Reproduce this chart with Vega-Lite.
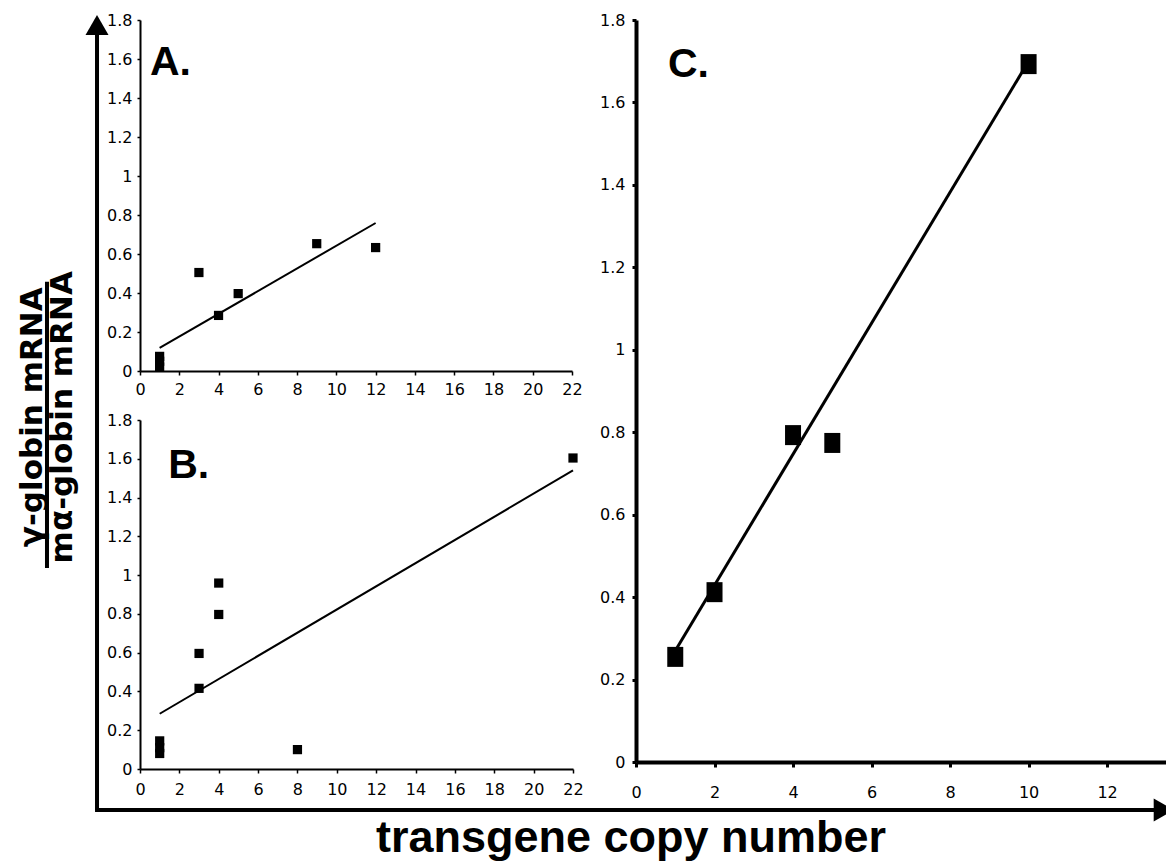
{
  "$schema": "https://vega.github.io/schema/vega-lite/v6.json",
  "background": "white",
  "width": 1166,
  "height": 862,
  "autosize": {"type": "none"},
  "padding": 0,
  "config": {
    "view": {"stroke": null},
    "axis": {"labelFont": "DejaVu Sans", "labelColor": "black", "domainColor": "black", "tickColor": "black", "grid": false, "labelFlush": false, "labelOverlap": false}
  },
  "datasets": {
    "A_pts": [
      {"copies": 1, "ratio": 0.02}, {"copies": 1, "ratio": 0.05}, {"copies": 1, "ratio": 0.075},
      {"copies": 3, "ratio": 0.505}, {"copies": 4, "ratio": 0.285}, {"copies": 5, "ratio": 0.397},
      {"copies": 9, "ratio": 0.653}, {"copies": 12, "ratio": 0.633}
    ],
    "A_fit": [{"copies": 1, "ratio": 0.118}, {"copies": 12, "ratio": 0.759}],
    "B_pts": [
      {"copies": 1, "ratio": 0.08}, {"copies": 1, "ratio": 0.11}, {"copies": 1, "ratio": 0.145},
      {"copies": 3, "ratio": 0.416}, {"copies": 3, "ratio": 0.596}, {"copies": 4, "ratio": 0.797},
      {"copies": 4, "ratio": 0.959}, {"copies": 8, "ratio": 0.1}, {"copies": 22, "ratio": 1.604}
    ],
    "B_fit": [{"copies": 1, "ratio": 0.285}, {"copies": 22, "ratio": 1.54}],
    "C_pts": [
      {"copies": 1, "ratio": 0.255}, {"copies": 2, "ratio": 0.412}, {"copies": 4, "ratio": 0.793},
      {"copies": 5, "ratio": 0.774}, {"copies": 10, "ratio": 1.693}
    ],
    "C_fit": [{"copies": 1, "ratio": 0.27}, {"copies": 10, "ratio": 1.7}]
  },
  "layer": [
    {
      "layer": [
        {
          "data": {"name": "A_fit"},
          "mark": {"type": "line", "color": "black", "strokeWidth": 2},
          "encoding": {
            "x": {"field": "copies", "type": "quantitative", "scale": {"domain": [0, 22], "range": [140, 572], "nice": false},
              "axis": {"orient": "bottom", "offset": -491, "values": [0, 2, 4, 6, 8, 10, 12, 14, 16, 18, 20, 22], "format": "~g", "title": null, "labelFontSize": 16, "domainWidth": 2, "tickWidth": 1.5, "tickSize": 4, "labelPadding": 6, "labelOverlap": false}},
            "y": {"field": "ratio", "type": "quantitative", "scale": {"domain": [0, 1.8], "range": [371, 20], "nice": false},
              "axis": {"orient": "left", "offset": -140, "values": [0, 0.2, 0.4, 0.6, 0.8, 1, 1.2, 1.4, 1.6, 1.8], "format": "~g", "title": null, "labelFontSize": 16, "domainWidth": 2, "tickWidth": 1.5, "tickSize": 3, "labelPadding": 5, "labelOverlap": false}}
          }
        },
        {
          "data": {"name": "A_pts"},
          "mark": {"type": "point", "shape": "square", "filled": true, "size": 85, "color": "black", "opacity": 1},
          "encoding": {
            "x": {"field": "copies", "type": "quantitative"},
            "y": {"field": "ratio", "type": "quantitative"}
          }
        },
        {
          "data": {"values": [{"label": "A."}]},
          "mark": {"type": "text", "font": "Liberation Sans", "fontWeight": "bold", "fontSize": 41, "align": "left", "baseline": "alphabetic", "color": "black"},
          "encoding": {
            "x": {"datum": 0.51, "type": "quantitative"},
            "y": {"datum": 1.52, "type": "quantitative"},
            "text": {"field": "label"}
          }
        }
      ]
    },
    {
      "layer": [
        {
          "data": {"name": "B_fit"},
          "mark": {"type": "line", "color": "black", "strokeWidth": 2},
          "encoding": {
            "x": {"field": "copies", "type": "quantitative", "scale": {"domain": [0, 22], "range": [140, 573], "nice": false},
              "axis": {"orient": "bottom", "offset": -93, "values": [0, 2, 4, 6, 8, 10, 12, 14, 16, 18, 20, 22], "format": "~g", "title": null, "labelFontSize": 16, "domainWidth": 2, "tickWidth": 1.5, "tickSize": 4, "labelPadding": 8, "labelOverlap": false}},
            "y": {"field": "ratio", "type": "quantitative", "scale": {"domain": [0, 1.8], "range": [769, 420], "nice": false},
              "axis": {"orient": "left", "offset": -140, "values": [0, 0.2, 0.4, 0.6, 0.8, 1, 1.2, 1.4, 1.6, 1.8], "format": "~g", "title": null, "labelFontSize": 16, "domainWidth": 2, "tickWidth": 1.5, "tickSize": 3, "labelPadding": 5, "labelOverlap": false}}
          }
        },
        {
          "data": {"name": "B_pts"},
          "mark": {"type": "point", "shape": "square", "filled": true, "size": 85, "color": "black", "opacity": 1},
          "encoding": {
            "x": {"field": "copies", "type": "quantitative"},
            "y": {"field": "ratio", "type": "quantitative"}
          }
        },
        {
          "data": {"values": [{"label": "B."}]},
          "mark": {"type": "text", "font": "Liberation Sans", "fontWeight": "bold", "fontSize": 41, "align": "left", "baseline": "alphabetic", "color": "black"},
          "encoding": {
            "x": {"datum": 1.43, "type": "quantitative"},
            "y": {"datum": 1.5, "type": "quantitative"},
            "text": {"field": "label"}
          }
        }
      ]
    },
    {
      "layer": [
        {
          "data": {"name": "C_fit"},
          "mark": {"type": "line", "color": "black", "strokeWidth": 3},
          "encoding": {
            "x": {"field": "copies", "type": "quantitative", "scale": {"domain": [0, 13.5], "range": [636, 1166], "nice": false},
              "axis": {"orient": "bottom", "offset": -100, "values": [0, 2, 4, 6, 8, 10, 12], "format": "~g", "title": null, "labelFontSize": 16, "domainWidth": 4, "tickWidth": 3, "tickSize": 5, "labelPadding": 17, "labelOverlap": false}},
            "y": {"field": "ratio", "type": "quantitative", "scale": {"domain": [0, 1.8], "range": [762, 20], "nice": false},
              "axis": {"orient": "left", "offset": -636, "values": [0, 0.2, 0.4, 0.6, 0.8, 1, 1.2, 1.4, 1.6, 1.8], "format": "~g", "title": null, "labelFontSize": 16, "domainWidth": 4, "tickWidth": 3, "tickSize": 4, "labelPadding": 7, "labelOverlap": false}}
          }
        },
        {
          "data": {"name": "C_pts"},
          "mark": {"type": "point", "shape": "M-0.8,-1L0.8,-1L0.8,1L-0.8,1Z", "filled": true, "size": 400, "color": "black", "opacity": 1},
          "encoding": {
            "x": {"field": "copies", "type": "quantitative"},
            "y": {"field": "ratio", "type": "quantitative"}
          }
        },
        {
          "data": {"values": [{"label": "C."}]},
          "mark": {"type": "text", "font": "Liberation Sans", "fontWeight": "bold", "fontSize": 41, "align": "left", "baseline": "alphabetic", "color": "black"},
          "encoding": {
            "x": {"datum": 0.815, "type": "quantitative"},
            "y": {"datum": 1.662, "type": "quantitative"},
            "text": {"field": "label"}
          }
        }
      ]
    },
    {
      "layer": [
        {
          "data": {"values": [{"part": "vertical arrow"}]},
          "mark": {"type": "rule", "color": "black", "strokeWidth": 4},
          "encoding": {
            "x": {"datum": 0.0832, "type": "quantitative", "scale": {"domain": [0, 1], "nice": false}, "axis": null},
            "y": {"datum": 0.0603, "type": "quantitative", "scale": {"domain": [0, 1], "nice": false}, "axis": null},
            "y2": {"datum": 0.962}
          }
        },
        {
          "data": {"values": [{"part": "vertical head"}]},
          "mark": {"type": "point", "shape": "triangle-up", "filled": true, "size": 529, "color": "black", "opacity": 1},
          "encoding": {
            "x": {"datum": 0.0832, "type": "quantitative"},
            "y": {"datum": 0.971, "type": "quantitative"}
          }
        },
        {
          "data": {"values": [{"part": "horizontal arrow"}]},
          "mark": {"type": "rule", "color": "black", "strokeWidth": 4},
          "encoding": {
            "x": {"datum": 0.0815, "type": "quantitative"},
            "x2": {"datum": 0.99},
            "y": {"datum": 0.0603, "type": "quantitative"}
          }
        },
        {
          "data": {"values": [{"part": "horizontal head"}]},
          "mark": {"type": "point", "shape": "triangle-right", "filled": true, "size": 529, "color": "black", "opacity": 1},
          "encoding": {
            "x": {"datum": 0.998, "type": "quantitative"},
            "y": {"datum": 0.0603, "type": "quantitative"}
          }
        },
        {
          "data": {"values": [{"part": "fraction bar"}]},
          "mark": {"type": "rule", "color": "black", "strokeWidth": 4},
          "encoding": {
            "x": {"datum": 0.0403, "type": "quantitative"},
            "y": {"datum": 0.341, "type": "quantitative"},
            "y2": {"datum": 0.673}
          }
        },
        {
          "data": {"values": [{"label": "γ-globin mRNA"}]},
          "mark": {"type": "text", "angle": 270, "font": "DejaVu Sans", "fontWeight": "bold", "fontSize": 31, "align": "center", "baseline": "middle", "color": "black"},
          "encoding": {
            "x": {"datum": 0.0283, "type": "quantitative"},
            "y": {"datum": 0.516, "type": "quantitative"},
            "text": {"field": "label"}
          }
        },
        {
          "data": {"values": [{"label": "mα-globin mRNA"}]},
          "mark": {"type": "text", "angle": 270, "font": "DejaVu Sans", "fontWeight": "bold", "fontSize": 31, "align": "center", "baseline": "middle", "color": "black"},
          "encoding": {
            "x": {"datum": 0.054, "type": "quantitative"},
            "y": {"datum": 0.516, "type": "quantitative"},
            "text": {"field": "label"}
          }
        },
        {
          "data": {"values": [{"label": "transgene copy number"}]},
          "mark": {"type": "text", "font": "Liberation Sans", "fontWeight": "bold", "fontSize": 45, "align": "center", "baseline": "alphabetic", "color": "black"},
          "encoding": {
            "x": {"datum": 0.5412, "type": "quantitative"},
            "y": {"datum": 0.0116, "type": "quantitative"},
            "text": {"field": "label"}
          }
        }
      ]
    }
  ],
  "resolve": {"scale": {"x": "independent", "y": "independent"}}
}
